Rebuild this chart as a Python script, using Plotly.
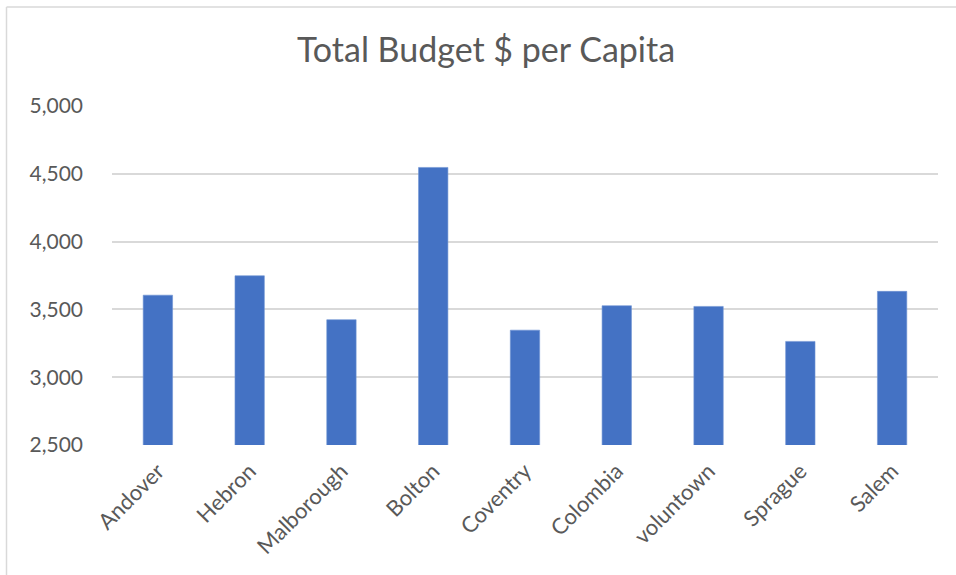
import plotly.graph_objects as go

# Per-capita budget by town
towns = ["Andover", "Hebron", "Malborough", "Bolton", "Coventry",
         "Colombia", "voluntown", "Sprague", "Salem"]
budget_per_capita = [3605, 3748, 3424, 4547, 3347, 3527, 3522, 3264, 3633]

W, H = 956, 575
L, R, T, B = 112, 18, 106, 130
pw = W - L - R
ph = H - T - B

fig = go.Figure(
    go.Bar(
        x=towns,
        y=budget_per_capita,
        marker=dict(color="#4472C4", line=dict(color="#6F93D3", width=0.6)),
    )
)

font_family = "Lato, 'Open Sans', sans-serif"
grey_text = "#595959"

# chart-area frame (top and left edges)
fx0 = (6.5 - L) / pw
fy_top = 1 + (T - 7) / ph
fy_bot = -(B) / ph
fig.add_shape(type="line", xref="paper", yref="paper",
              x0=fx0, x1=(W - L) / pw, y0=fy_top, y1=fy_top,
              line=dict(color="#d9d9d9", width=1.5))
fig.add_shape(type="line", xref="paper", yref="paper",
              x0=fx0, x1=fx0, y0=fy_top, y1=fy_bot,
              line=dict(color="#d9d9d9", width=1.5))

fig.update_layout(
    width=W, height=H,
    margin=dict(l=L, r=R, t=T, b=B),
    paper_bgcolor="white",
    plot_bgcolor="white",
    bargap=0.68,
    showlegend=False,
    title=dict(
        text="Total Budget $ per Capita",
        x=486 / W, xanchor="center",
        y=1 - 50 / H, yanchor="middle", yref="container",
        font=dict(family=font_family, size=34, color=grey_text),
    ),
    xaxis=dict(
        tickangle=-45,
        tickfont=dict(family=font_family, size=22, color=grey_text),
        showline=False,
        showgrid=False,
        ticks="",
        ticklabelstandoff=8,
    ),
    yaxis=dict(
        range=[2500, 5000],
        dtick=500,
        tick0=2500,
        tickformat=",",
        showgrid=True,
        gridcolor="#d9d9d9",
        gridwidth=1.5,
        zeroline=False,
        showline=False,
        ticks="",
        ticklabelstandoff=28,
        tickfont=dict(family=font_family, size=21, color=grey_text),
    ),
)

fig.write_html("out.html")
